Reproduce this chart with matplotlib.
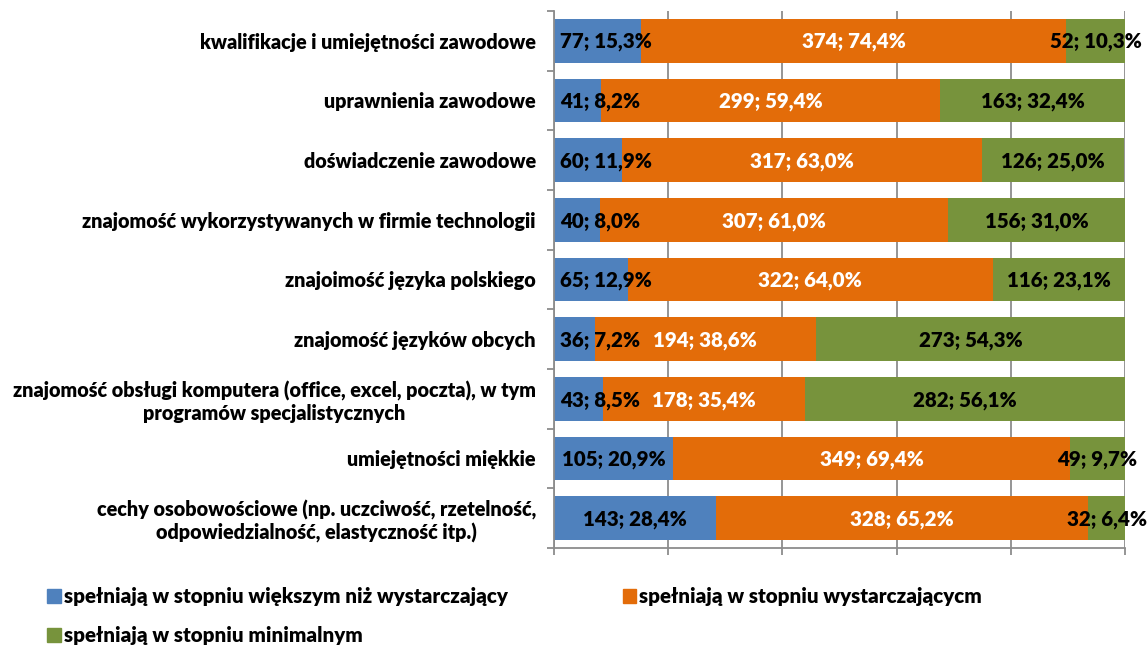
import numpy as np
import matplotlib.pyplot as plt
from matplotlib.patches import Patch
from matplotlib.ticker import MultipleLocator

plt.rcParams['font.family'] = ['Lato', 'DejaVu Sans']
plt.rcParams['font.weight'] = 'heavy'

categories = [
    'kwalifikacje i umiejętności zawodowe',
    'uprawnienia zawodowe',
    'doświadczenie zawodowe',
    'znajomość wykorzystywanych w firmie technologii',
    'znajoimość języka polskiego',
    'znajomość języków obcych',
    'znajomość obsługi komputera (office, excel, poczta), w tym\nprogramów specjalistycznych',
    'umiejętności miękkie',
    'cechy osobowościowe (np. uczciwość, rzetelność,\nodpowiedzialność, elastyczność itp.)',
]
series_names = [
    'spełniają w stopniu większym niż wystarczający',
    'spełniają w stopniu wystarczającycm',
    'spełniają w stopniu minimalnym',
]
counts_high = [77, 41, 60, 40, 65, 36, 43, 105, 143]
counts_mid = [374, 299, 317, 307, 322, 194, 178, 349, 328]
counts_min = [52, 163, 126, 156, 116, 273, 282, 49, 32]
pct_high = [15.3, 8.2, 11.9, 8.0, 12.9, 7.2, 8.5, 20.9, 28.4]
pct_mid = [74.4, 59.4, 63.0, 61.0, 64.0, 38.6, 35.4, 69.4, 65.2]
pct_min = [10.3, 32.4, 25.0, 31.0, 23.1, 54.3, 56.1, 9.7, 6.4]

colors = ['#4F81BD', '#E36C09', '#77933C']
text_colors = ['black', 'white', 'black']

fig = plt.figure(figsize=(11.48, 6.45), dpi=100)
ax = fig.add_axes([0.4826, 0.1504, 0.98 - 0.4826, 0.983 - 0.1504])

y = np.arange(len(categories))
left = np.zeros(len(categories))
all_counts = [counts_high, counts_mid, counts_min]
all_pct = [pct_high, pct_mid, pct_min]
first_labels = []
for i in range(3):
    w = np.array(all_pct[i]) / 100.0
    ax.barh(y, w, left=left, height=0.73, color=colors[i], zorder=2)
    for j in range(len(categories)):
        txt = f"{all_counts[i][j]}; {all_pct[i][j]:.1f}%".replace('.', ',')
        t = ax.text(left[j] + w[j] / 2, y[j] + 0.02, txt, ha='center', va='center',
                    color=text_colors[i], fontsize=14.8, zorder=3)
        if i == 0:
            first_labels.append(t)
    left = left + w

ax.set_xlim(0, 1)
ax.set_ylim(len(categories) - 0.5, -0.5)
ax.xaxis.set_major_locator(MultipleLocator(0.2))
ax.set_xticklabels([])
ax.grid(axis='x', color='#8c8c8c', linewidth=1.3, zorder=0)
ax.tick_params(axis='x', direction='out', length=5, color='#8c8c8c', width=1.3)

ax.set_yticks(y)
ax.set_yticklabels(categories, fontsize=14.2)
for lbl in ax.get_yticklabels():
    lbl.set_multialignment('center')
ax.set_yticks(np.arange(-0.5, len(categories), 1), minor=True)
ax.tick_params(axis='y', which='major', length=0, pad=13)
ax.tick_params(axis='y', which='minor', direction='out', length=5,
               color='#8c8c8c', width=1.3)

for s in ['top', 'right']:
    ax.spines[s].set_visible(False)
for s in ['left', 'bottom']:
    ax.spines[s].set_color('#8c8c8c')
    ax.spines[s].set_linewidth(1.3)

# keep the narrow first-segment labels from sticking out left of the plot
fig.canvas.draw()
renderer = fig.canvas.get_renderer()
ax_box = ax.get_window_extent(renderer)
for t in first_labels:
    bb = t.get_window_extent(renderer)
    limit = ax_box.x0 + 6
    if bb.x0 < limit:
        x, yy = t.get_position()
        t.set_x(x + (limit - bb.x0) / ax_box.width)

# legend fills column-wise, so reorder to get A B / C row layout
order = [0, 2, 1]
handles = [Patch(color=colors[k]) for k in order]
labels = [series_names[k] for k in order]
fig.legend(handles, labels, loc='upper left', bbox_to_anchor=(0.025, 0.118),
           ncol=2, frameon=False, handlelength=0.65, handleheight=0.65,
           handletextpad=0.15, columnspacing=5.6, labelspacing=0.95,
           prop={'weight': 'heavy', 'size': 14.8})

fig.savefig('out.png', dpi=100)
